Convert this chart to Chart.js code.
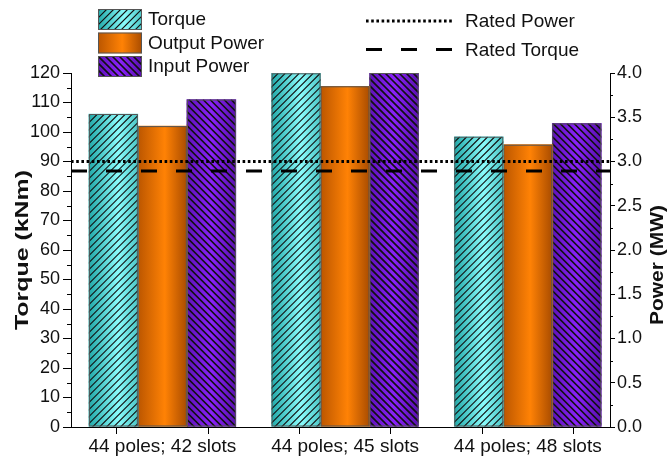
<!DOCTYPE html>
<html>
<head>
<meta charset="utf-8">
<script src="https://cdn.jsdelivr.net/npm/chart.js@4.4.0/dist/chart.umd.min.js"></script>
<style>
  html, body { margin: 0; padding: 0; background: #fff; }
  #wrap { width: 668px; height: 458px; }
</style>
</head>
<body>
<div id="wrap"><canvas id="chart"></canvas></div>
<script>
// data
const categories = ["44 poles; 42 slots", "44 poles; 45 slots", "44 poles; 48 slots"];
const torque = [106.1, 119.9, 98.4];        // kNm, left axis
const outputPower = [3.40, 3.85, 3.19];     // MW, right axis
const inputPower = [3.70, 4.00, 3.43];      // MW, right axis
const ratedPower = 3.0;                     // MW
const ratedTorque = 86.8;                   // kNm
const torqueAxis = { min: 0, max: 120, step: 10, minor: 5 };
const powerAxis = { min: 0, max: 4.0, step: 0.5, minor: 0.25 };
const xRange = { min: 0.5, max: 3.45 };

const FONT = "'Liberation Sans', Arial, sans-serif";

const styles = {
    torque: { stops: [[0, "#22a9a9"], [0.6, "#8afcfc"], [1, "#4cc6c6"]], hatch: "fwd", lw: 1.15, sp: 7 },
    output: { stops: [[0, "#bb5600"], [0.55, "#ff8205"], [1, "#a94c00"]], hatch: null },
    input:  { stops: [[0, "#5e12b8"], [0.5, "#8a22fa"], [1, "#5a10b0"]], hatch: "back", lw: 1.6, sp: 7 }
};

function paintBox(ctx, x0, y0, w, h, st) {
    ctx.save();
    ctx.beginPath();
    ctx.rect(x0, y0, w, h);
    ctx.clip();
    const g = ctx.createLinearGradient(x0, 0, x0 + w, 0);
    st.stops.forEach(s => g.addColorStop(s[0], s[1]));
    ctx.fillStyle = g;
    ctx.fillRect(x0, y0, w, h);
    if (st.hatch) {
        ctx.strokeStyle = "#111";
        ctx.lineWidth = st.lw;
        ctx.beginPath();
        const sp = st.sp;
        const lo = Math.floor((x0 - h - 10) / sp) * sp;
        for (let c = lo; c < x0 + w + h + 10; c += sp) {
            if (st.hatch === "fwd") {
                ctx.moveTo(c, y0 + h + 2);
                ctx.lineTo(c + h + 2, y0);
            } else {
                ctx.moveTo(c, y0);
                ctx.lineTo(c + h + 2, y0 + h + 2);
            }
        }
        ctx.stroke();
    }
    ctx.restore();
    ctx.strokeStyle = "#555";
    ctx.lineWidth = 1;
    ctx.strokeRect(x0 + 0.5, y0 + 0.5, w - 1, h - 1);
}

const barShading = {
    id: "barShading",
    afterDatasetDraw(chart, args) {
        const ds = chart.data.datasets[args.index];
        if (!ds.shade) return;
        const ctx = chart.ctx;
        const ca = chart.chartArea;
        ctx.save();
        ctx.beginPath();
        ctx.rect(ca.left, ca.top - 2, ca.right - ca.left, ca.bottom - ca.top + 2);
        ctx.clip();
        args.meta.data.forEach(bar => {
            const p = bar.getProps(["x", "y", "base", "width"], true);
            paintBox(ctx, p.x - p.width / 2, p.y, p.width, p.base - p.y, styles[ds.shade]);
        });
        ctx.restore();
    }
};

const decorations = {
    id: "decorations",
    afterDraw(chart) {
        const ctx = chart.ctx;
        const ca = chart.chartArea;
        const yl = chart.scales.yT, yr = chart.scales.yP;
        ctx.save();
        // minor ticks
        ctx.strokeStyle = "#000";
        ctx.lineWidth = 1;
        ctx.beginPath();
        for (let v = torqueAxis.minor; v < torqueAxis.max; v += torqueAxis.step) {
            const y = Math.round(yl.getPixelForValue(v)) + 0.5;
            ctx.moveTo(ca.left - 4, y); ctx.lineTo(ca.left, y);
        }
        for (let v = powerAxis.minor; v < powerAxis.max; v += powerAxis.step) {
            const y = Math.round(yr.getPixelForValue(v)) + 0.5;
            ctx.moveTo(ca.right, y); ctx.lineTo(ca.right + 3, y);
        }
        ctx.stroke();

        // axis titles
        ctx.fillStyle = "#111";
        ctx.font = "bold 18px " + FONT;
        ctx.textAlign = "center";
        ctx.textBaseline = "alphabetic";
        const title = (txt, x, y, len) => {
            ctx.save();
            ctx.translate(x, y);
            ctx.rotate(-Math.PI / 2);
            const w = ctx.measureText(txt).width;
            ctx.scale(len / w, 1);
            ctx.fillText(txt, 0, 0);
            ctx.restore();
        };
        title("Torque (kNm)", 28, 250, 160);
        title("Power (MW)", 663, 265, 120);

        // legend
        ctx.font = "19px " + FONT;
        ctx.textAlign = "left";
        ctx.textBaseline = "middle";
        const bars = chart.data.datasets.filter(d => d.shade);
        bars.forEach((d, i) => {
            const y0 = 9 + i * 23.5;
            paintBox(ctx, 98, y0, 44, 21, styles[d.shade]);
            ctx.fillStyle = "#111";
            ctx.fillText(d.label, 148, y0 + 11);
        });
        const lines = chart.data.datasets.filter(d => d.type === "line");
        lines.forEach((d, i) => {
            const y = 21 + i * 28.5;
            ctx.save();
            ctx.strokeStyle = "#000";
            ctx.lineWidth = d.borderWidth;
            ctx.setLineDash(d.borderDash);
            ctx.beginPath();
            ctx.moveTo(366, y); ctx.lineTo(452, y);
            ctx.stroke();
            ctx.restore();
            ctx.fillStyle = "#111";
            ctx.fillText(d.label, 465, y + 1);
        });
        ctx.restore();
    }
};

const xs = categories.map((_, i) => i + 1);
const pts = arr => arr.map((v, i) => ({ x: xs[i], y: v }));

new Chart(document.getElementById("chart"), {
    type: "bar",
    data: {
        datasets: [
            { label: "Torque", data: pts(torque), yAxisID: "yT", shade: "torque",
              backgroundColor: "#5ee0e0", order: 2 },
            { label: "Output Power", data: pts(outputPower), yAxisID: "yP", shade: "output",
              backgroundColor: "#f07800", order: 2 },
            { label: "Input Power", data: pts(inputPower), yAxisID: "yP", shade: "input",
              backgroundColor: "#7a1ae0", order: 2 },
            { type: "line", label: "Rated Power", yAxisID: "yP",
              data: [{ x: xRange.min, y: ratedPower }, { x: xRange.max, y: ratedPower }],
              borderColor: "#000", borderWidth: 2.8, borderDash: [2.6, 2.6],
              pointRadius: 0, order: 0 },
            { type: "line", label: "Rated Torque", yAxisID: "yT",
              data: [{ x: xRange.min, y: ratedTorque }, { x: xRange.max, y: ratedTorque }],
              borderColor: "#000", borderWidth: 3, borderDash: [16, 19],
              pointRadius: 0, order: 0 }
        ]
    },
    options: {
        responsive: true,
        maintainAspectRatio: false,
        animation: false,
        barThickness: 49,
        layout: { padding: { left: 31, right: 18, top: 73, bottom: 0 } },
        plugins: { legend: { display: false }, tooltip: { enabled: false } },
        scales: {
            x: {
                type: "linear",
                min: xRange.min,
                max: xRange.max,
                offset: false,
                afterBuildTicks: axis => {
                    axis.ticks = axis.ticks.filter(t => Math.abs(t.value * 2 - Math.round(t.value * 2)) < 1e-6);
                },
                afterFit: s => { s.height = 31; },
                ticks: {
                    stepSize: 0.5,
                    autoSkip: false,
                    maxRotation: 0,
                    padding: 1,
                    color: "#111",
                    font: { family: FONT, size: 19 },
                    callback: v => Number.isInteger(v) ? categories[v - 1] : ""
                },
                grid: { drawOnChartArea: false, tickLength: 7, tickColor: "#000" },
                border: { color: "#000", width: 1 }
            },
            yT: {
                position: "left",
                min: torqueAxis.min,
                max: torqueAxis.max,
                afterFit: s => { s.width = 40; },
                ticks: { stepSize: torqueAxis.step, padding: 3, color: "#111",
                         font: { family: FONT, size: 18 } },
                grid: { drawOnChartArea: false, tickLength: 8, tickColor: "#000" },
                border: { color: "#000", width: 1 }
            },
            yP: {
                position: "right",
                min: powerAxis.min,
                max: powerAxis.max,
                afterFit: s => { s.width = 40; },
                ticks: { stepSize: powerAxis.step, padding: 2, color: "#111",
                         font: { family: FONT, size: 18 },
                         callback: v => v.toFixed(1) },
                grid: { drawOnChartArea: false, tickLength: 5, tickColor: "#000" },
                border: { color: "#000", width: 1 }
            }
        }
    },
    plugins: [barShading, decorations]
});
</script>
</body>
</html>
